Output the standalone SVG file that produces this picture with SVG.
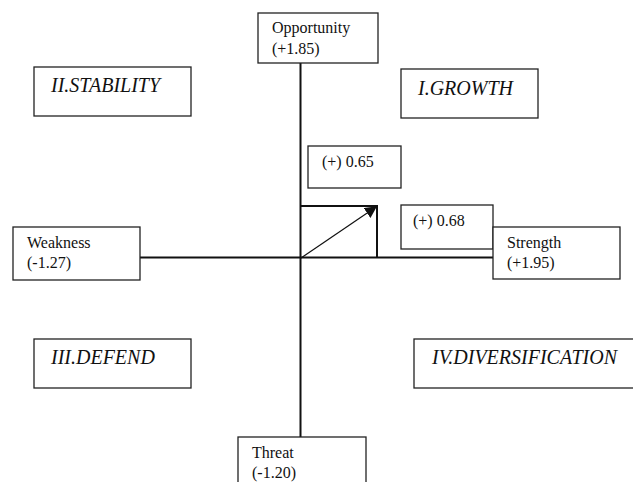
<svg xmlns="http://www.w3.org/2000/svg" width="633" height="482" viewBox="0 0 633 482">
<style>
.box{fill:#fff;stroke:#222;stroke-width:1.3}
.t{font-family:"Liberation Serif","Times New Roman",serif;font-size:16px;fill:#111}
.q{font-family:"Liberation Serif","Times New Roman",serif;font-size:20px;font-style:italic;fill:#111}
.ax{stroke:#111;stroke-width:2;fill:none}
</style>
<defs>
<marker id="ah" viewBox="0 0 10 10" refX="9" refY="5" markerWidth="9" markerHeight="9" markerUnits="userSpaceOnUse" orient="auto">
<path d="M0,0 L10,5 L0,10 z" fill="#111"/>
</marker>
<marker id="ah2" viewBox="0 0 10 10" refX="9" refY="5" markerWidth="12" markerHeight="12" markerUnits="userSpaceOnUse" orient="auto">
<path d="M0,0 L10,5 L0,10 z" fill="#111"/>
</marker>
</defs>
<rect width="633" height="482" fill="#fff"/>
<g id="connectors">
<line class="ax" x1="300.5" y1="63" x2="300.5" y2="437"/>
<line class="ax" x1="140" y1="257.5" x2="493" y2="257.5"/>
<polyline class="ax" points="301,206 377,206 377,258"/>
<line x1="301" y1="258" x2="376" y2="207" stroke="#111" stroke-width="1.2" marker-end="url(#ah2)"/>
</g>
<g id="opportunity">
<rect class="box" x="258" y="13" width="120" height="50"/>
<text class="t" x="272" y="33">Opportunity</text>
<text class="t" x="272" y="54">(+1.85)</text>
</g>
<g id="stability">
<rect class="box" x="34" y="67" width="157" height="49"/>
<text class="q" x="51" y="92">II.STABILITY</text>
</g>
<g id="growth">
<rect class="box" x="401" y="69" width="137" height="49"/>
<text class="q" x="418" y="95">I.GROWTH</text>
</g>
<g id="val065">
<rect class="box" x="308" y="146" width="93" height="42"/>
<text class="t" x="322" y="167">(+) 0.65</text>
</g>
<g id="val068">
<rect class="box" x="401" y="205" width="92" height="44"/>
<text class="t" x="413" y="226">(+) 0.68</text>
</g>
<g id="weakness">
<rect class="box" x="13" y="227" width="127" height="53"/>
<text class="t" x="27" y="248">Weakness</text>
<text class="t" x="27" y="268">(-1.27)</text>
</g>
<g id="strength">
<rect class="box" x="493" y="227" width="127" height="52"/>
<text class="t" x="507" y="248">Strength</text>
<text class="t" x="507" y="268">(+1.95)</text>
</g>
<g id="defend">
<rect class="box" x="34" y="339" width="157" height="49"/>
<text class="q" x="51" y="364">III.DEFEND</text>
</g>
<g id="diversification">
<rect class="box" x="414" y="339" width="230" height="49"/>
<text class="q" x="432" y="364">IV.DIVERSIFICATION</text>
</g>
<g id="threat">
<rect class="box" x="238" y="437" width="128" height="60"/>
<text class="t" x="252" y="458">Threat</text>
<text class="t" x="252" y="478">(-1.20)</text>
</g>
</svg>
